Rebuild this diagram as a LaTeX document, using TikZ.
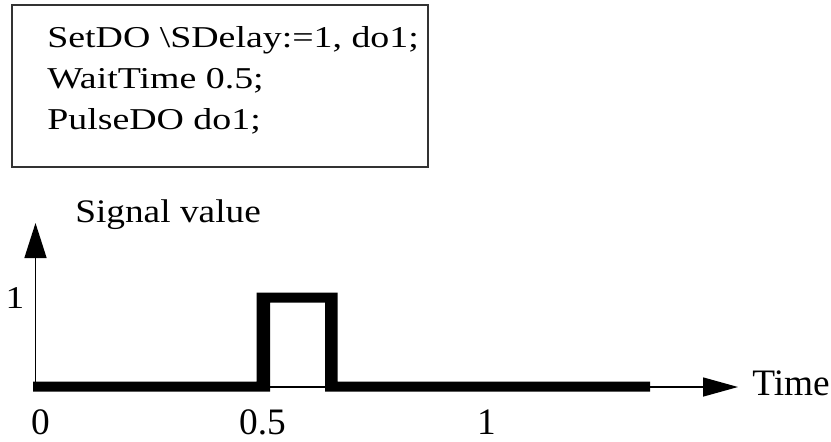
\documentclass[tikz,border=0pt]{standalone}
\usepackage{fontspec}
\setmainfont{Liberation Serif}
\usetikzlibrary{arrows.meta}
\begin{document}
\begin{tikzpicture}[x=0.75pt,y=-0.75pt,
  codetext/.style={anchor=base west,inner sep=0pt,font=\fontsize{28.4}{34}\selectfont},
  lbl/.style={inner sep=0pt,font=\fontsize{28}{34}\selectfont},
  axis/.style={line width=1.1pt,black},
  sig/.style={fill=black}]
\useasboundingbox (0,0) rectangle (831,442);
% code box
\node[draw=black!80,line width=1.5pt,minimum width=312pt,minimum height=121.5pt,inner sep=0pt] (box) at (220,86) {};
\node[codetext] (l1) at (47,47.5) {\scalebox{1}[0.8]{SetDO \textbackslash SDelay:=1, do1;}};
\node[codetext] (l2) at (47,88.5) {\scalebox{1}[0.8]{WaitTime 0.5;}};
\node[codetext] (l3) at (47,130) {\scalebox{1}[0.8]{PulseDO do1;}};
% axes
\coordinate (o) at (35.5,387);
\coordinate (ytip) at (35.5,223);
\coordinate (xtip) at (738,387);
\draw[axis,-{Triangle[length=26.25pt,width=16.5pt]}] (o) -- (ytip);
\draw[axis,-{Triangle[length=26.25pt,width=14.25pt]}] (o) -- (xtip);
% signal
\fill[sig] (33,381.7) -- (256.7,381.7) -- (256.7,292.7) -- (337.7,292.7) -- (337.7,381.7)
  -- (650,381.7) -- (650,391.7) -- (325,391.7) -- (325,302.7) -- (270,302.7)
  -- (270,391.7) -- (33,391.7) -- cycle;
% labels
\node[anchor=base west,lbl] (sv) at (75,222) {\scalebox{1}[0.88]{Signal value}};
\node[anchor=base west,lbl] (time) at (752,395) {Time};
\node[anchor=base,lbl] (one) at (15,308) {\scalebox{1}[0.85]{1}};
\node[anchor=base,lbl,text depth=0pt] (t0) at (40.5,434) {0};
\node[anchor=base,lbl,text depth=0pt] (t05) at (262.5,434) {0.5};
\node[anchor=base,lbl,text depth=0pt] (t1) at (486.5,434) {1};
\end{tikzpicture}
\end{document}
